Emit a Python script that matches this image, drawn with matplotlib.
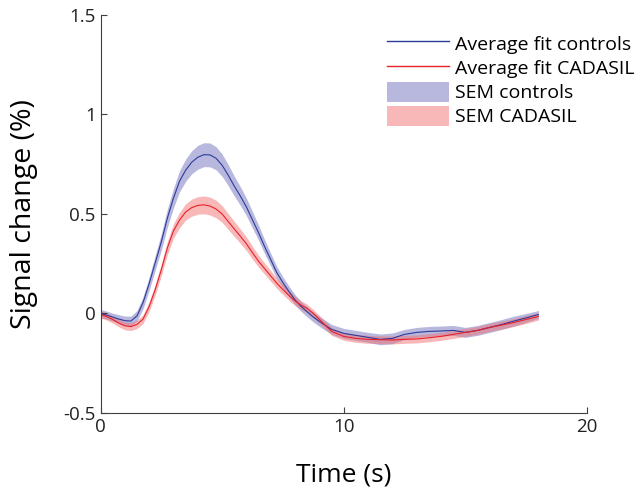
import matplotlib
matplotlib.use('Agg')
from matplotlib import pyplot as plt
from matplotlib.patches import Patch
from matplotlib.lines import Line2D
import numpy as np

plt.rcParams['font.family'] = ['Open Sans', 'DejaVu Sans']

# time axis (s): 0.25 s steps over the response, 0.5 s in the tail
time = np.r_[np.arange(0, 9, 0.25), np.arange(9, 18.01, 0.5)]

# average fit, controls (% signal change)
controls = [0.0, -0.008, -0.018, -0.028, -0.036, -0.038, -0.012, 0.055, 0.15, 0.255,
            0.36, 0.48, 0.58, 0.665, 0.72, 0.76, 0.785, 0.798, 0.797, 0.78,
            0.745, 0.695, 0.64, 0.59, 0.535, 0.47, 0.405, 0.335, 0.27, 0.205,
            0.155, 0.11, 0.068, 0.035, 0.008, -0.018,
            -0.04, -0.08, -0.10, -0.11, -0.12, -0.13, -0.125, -0.105, -0.095, -0.09,
            -0.088, -0.085, -0.095, -0.085, -0.07, -0.055, -0.038, -0.022, -0.005]
sem_controls = [0.02, 0.02, 0.02, 0.022, 0.023, 0.025, 0.027, 0.03, 0.033, 0.037,
                0.041, 0.045, 0.049, 0.053, 0.056, 0.058, 0.06, 0.06, 0.06, 0.058,
                0.056, 0.053, 0.05, 0.047, 0.044, 0.041, 0.038, 0.035, 0.032, 0.03,
                0.028, 0.027, 0.026, 0.025, 0.025, 0.025,
                0.025, 0.025, 0.025, 0.025, 0.025, 0.027, 0.027, 0.025, 0.025, 0.025,
                0.025, 0.025, 0.025, 0.025, 0.025, 0.025, 0.025, 0.022, 0.02]

# average fit, CADASIL
cadasil = [-0.005, -0.015, -0.03, -0.048, -0.062, -0.066, -0.055, -0.028, 0.035, 0.12,
           0.22, 0.33, 0.415, 0.47, 0.51, 0.532, 0.543, 0.546, 0.54, 0.525,
           0.5, 0.462, 0.425, 0.388, 0.35, 0.305, 0.262, 0.225, 0.188, 0.152,
           0.12, 0.09, 0.063, 0.042, 0.025, 0.0,
           -0.03, -0.09, -0.115, -0.125, -0.13, -0.132, -0.133, -0.13, -0.128, -0.122,
           -0.115, -0.105, -0.095, -0.085, -0.07, -0.058, -0.045, -0.03, -0.015]
sem_cadasil = [0.018, 0.018, 0.018, 0.019, 0.02, 0.02, 0.021, 0.022, 0.024, 0.027,
               0.03, 0.033, 0.036, 0.039, 0.041, 0.043, 0.044, 0.045, 0.045, 0.044,
               0.042, 0.04, 0.038, 0.036, 0.034, 0.032, 0.03, 0.028, 0.027, 0.026,
               0.025, 0.024, 0.023, 0.022, 0.021, 0.02,
               0.02, 0.02, 0.02, 0.02, 0.02, 0.02, 0.02, 0.02, 0.02, 0.02,
               0.02, 0.02, 0.02, 0.02, 0.02, 0.02, 0.02, 0.02, 0.018]

legend_labels = ['Average fit controls', 'Average fit CADASIL', 'SEM controls', 'SEM CADASIL']

blue_line = '#2b3b9a'
red_line = '#e8202a'
blue_band = (0.45, 0.45, 0.75)
red_band = (0.95, 0.45, 0.45)

fig = plt.figure(figsize=(6.43, 4.88), dpi=100)
ax = fig.add_axes([0.1563, 0.1537, 0.7566, 0.8156])

c = np.array(controls)
sc = np.array(sem_controls)
r = np.array(cadasil)
sr = np.array(sem_cadasil)

ax.fill_between(time, c - sc, c + sc, color=blue_band, alpha=0.5, lw=0)
ax.fill_between(time, r - sr, r + sr, color=red_band, alpha=0.5, lw=0)
ax.plot(time, c, color=blue_line, lw=0.8)
ax.plot(time, r, color=red_line, lw=0.8)

ax.set_xlim(0, 20)
ax.set_ylim(-0.5, 1.5)
ax.set_xticks([0, 10, 20])
ax.set_yticks([-0.5, 0, 0.5, 1, 1.5])
ax.set_yticklabels(['-0.5', '0', '0.5', '1', '1.5'])
ax.set_xlabel('Time (s)', fontsize=19, labelpad=19)
ax.set_ylabel('Signal change (%)', fontsize=20.5, labelpad=18)

for s in ['top', 'right']:
    ax.spines[s].set_visible(False)
for s in ['left', 'bottom']:
    ax.spines[s].set_color('#404040')
    ax.spines[s].set_linewidth(0.8)
ax.tick_params(direction='in', length=4, width=0.8, color='#404040',
               labelsize=13.5, labelcolor='#222222')

handles = [Line2D([], [], color=blue_line, lw=1.0),
           Line2D([], [], color=red_line, lw=1.0),
           Patch(facecolor=blue_band, alpha=0.5, lw=0),
           Patch(facecolor=red_band, alpha=0.5, lw=0)]
fig.legend(handles, legend_labels, loc='upper right', bbox_to_anchor=(1.008, 0.96),
           frameon=False, fontsize=14, handlelength=3.2, handleheight=1.2,
           handletextpad=0.3, labelspacing=0.19, borderpad=0.2)

fig.savefig('out.png', dpi=100)
